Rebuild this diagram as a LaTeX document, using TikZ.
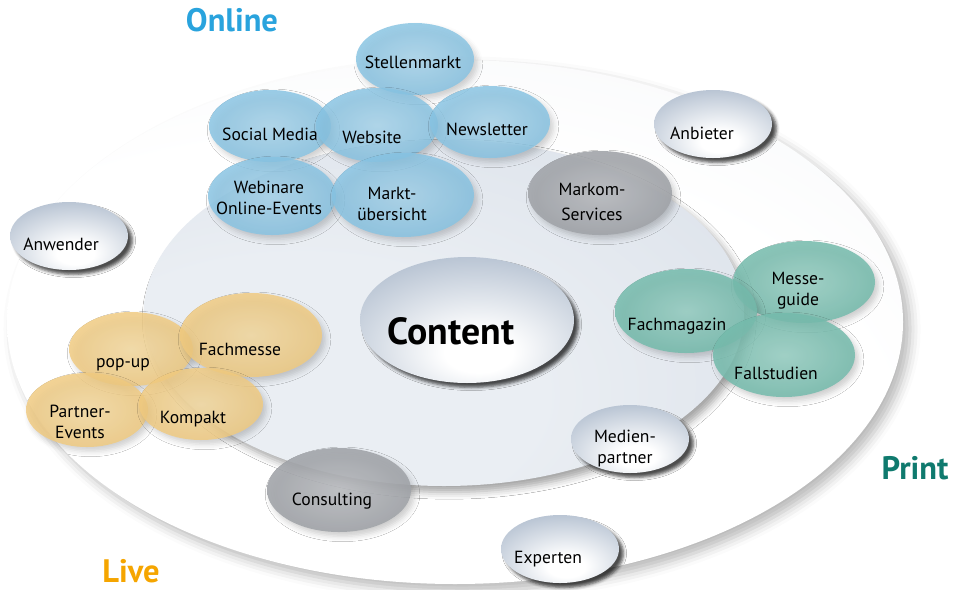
\documentclass[tikz,border=0pt]{standalone}
\usepackage{fontspec}
\setmainfont{PT Sans}
\usetikzlibrary{shapes.geometric,shadows.blur}
\newdimen\px \px=0.02cm
\newcommand\tx[3]{\makebox[0pt]{\hspace*{#1\px}\hspace*{#1\px}\raisebox{\dimexpr -#2\px - 4.2pt\relax}[0pt][0pt]{\begin{tabular}{@{}c@{}}#3\end{tabular}}}}
\definecolor{discout}{HTML}{ECEFF3}
\definecolor{innerin}{HTML}{EAEEF3}
\definecolor{innerout}{HTML}{D0D8E3}
\definecolor{glassout}{HTML}{B0BDCE}
\definecolor{bluein}{HTML}{A8D6EE}
\definecolor{blueout}{HTML}{86C3E3}
\definecolor{orin}{HTML}{F8DCA0}
\definecolor{orout}{HTML}{F1CA7E}
\definecolor{tealin}{HTML}{98D0C4}
\definecolor{tealout}{HTML}{74BBAC}
\definecolor{greyin}{HTML}{BBBDC1}
\definecolor{greyout}{HTML}{A0A3A8}
\definecolor{onlinec}{HTML}{29A3DD}
\definecolor{livec}{HTML}{F5A500}
\definecolor{printc}{HTML}{0F7A6E}
\pgfdeclareradialshading{disc}{\pgfpoint{-8bp}{-18bp}}{color(0bp)=(white);color(30bp)=(white);color(62bp)=(discout);color(100bp)=(discout)}
\pgfdeclareradialshading{innerdisc}{\pgfpoint{-15bp}{-15bp}}{color(0bp)=(innerin);color(20bp)=(innerin);color(65bp)=(innerout);color(100bp)=(innerout)}
\pgfdeclareradialshading{glass}{\pgfpoint{3bp}{-14bp}}{color(0bp)=(white);color(8bp)=(white);color(38bp)=(glassout);color(100bp)=(glassout)}
\tikzset{
  sz/.style 2 args={minimum width=2*#1*0.02cm, minimum height=2*#2*0.02cm},
  bub/.style={ellipse, inner sep=0pt, outer sep=0pt, font=\fontsize{10}{11.6}\selectfont, text=black, text opacity=1},
  softshadow/.style={blur shadow={shadow xshift=2pt, shadow yshift=-2.5pt, shadow blur radius=3pt, shadow opacity=22}},
  bluebub/.style={bub, softshadow, shade, inner color=bluein, outer color=blueout, fill opacity=0.82},
  orbub/.style={bub, softshadow, shade, inner color=orin, outer color=orout, fill opacity=0.82},
  tealbub/.style={bub, softshadow, shade, inner color=tealin, outer color=tealout, fill opacity=0.85},
  greybub/.style={bub, softshadow, shade, inner color=greyin, outer color=greyout, fill opacity=0.88},
  glassbub/.style={bub, blur shadow={shadow xshift=2.5pt, shadow yshift=-2.5pt, shadow blur radius=1.8pt, shadow opacity=70}, shading=glass},
  catlabel/.style={font=\fontsize{18.5}{21}\selectfont\bfseries, inner sep=0pt}
}
\begin{document}
\begin{tikzpicture}[x=0.02cm, y=-0.02cm]
\useasboundingbox (0,0) rectangle (961,589);
% discs
\path[blur shadow={shadow xshift=4pt, shadow yshift=-4pt, shadow blur radius=6pt, shadow opacity=28}, shading=disc] (455,322) ellipse [x radius=448, y radius=262];
\path[blur shadow={shadow xshift=3pt, shadow yshift=-3.5pt, shadow blur radius=4pt, shadow opacity=35}, shading=innerdisc] (444,313) ellipse [x radius=300, y radius=173];
% centre
\node[glassbub, sz={107}{63}, font=\fontsize{21.5}{24}\selectfont\bfseries] (content) at (467,320) {\tx{-16}{18}{Content}};
% online
\node[bluebub, sz={59}{36}] (stellen) at (415,59) {\tx{-2}{2}{Stellenmarkt}};
\node[bluebub, sz={61}{36}] (social) at (270,126) {\tx{0}{7}{Social Media}};
\node[bluebub, sz={61}{37}] (website) at (377,125) {\tx{-5}{11}{Website}};
\node[bluebub, sz={60}{36}] (news) at (490,122) {\tx{-3}{6}{Newsletter}};
\node[bluebub, sz={64}{39}] (webinare) at (272,196) {\tx{-3}{1}{Webinare\\Online-Events}};
\node[bluebub, sz={71}{42}] (markt) at (403,195) {\tx{-11}{8}{Markt-\\übersicht}};
% grey
\node[greybub, sz={72}{42}] (markom) at (600,193) {\tx{-8}{8}{Markom-\\[3pt]Services}};
\node[greybub, sz={72}{42}] (consulting) at (339,490) {\tx{-7}{8}{Consulting}};
% glass
\node[glassbub, sz={59}{34}] (anbieter) at (713,124) {\tx{-11}{8}{Anbieter}};
\node[glassbub, sz={59}{34}] (anwender) at (69,236) {\tx{-8}{7}{Anwender}};
\node[glassbub, sz={59}{34}] (medien) at (630,439) {\tx{-5}{7}{Medien-\\partner}};
\node[glassbub, sz={59}{34}] (experten) at (560,549) {\tx{-12}{7}{Experten}};
% print
\node[tealbub, sz={71}{41}] (messe) at (804,282) {\tx{-6}{6}{Messe-\\guide}};
\node[tealbub, sz={71}{42}] (fachmagazin) at (686,311) {\tx{-9}{12}{Fachmagazin}};
\node[tealbub, sz={71}{42}] (fallstudien) at (784,355) {\tx{-8}{17}{Fallstudien}};
% live
\node[orbub, sz={62}{37}] (popup) at (131,349) {\tx{-8}{11}{pop-up}};
\node[orbub, sz={71}{42}] (fachmesse) at (251,335) {\tx{-11}{13}{Fachmesse}};
\node[orbub, sz={61}{37}] (partner) at (87,410) {\tx{-7}{11}{Partner-\\Events}};
\node[orbub, sz={62}{36}] (kompakt) at (201,404) {\tx{-8}{12}{Kompakt}};
% category labels
\node[catlabel, text=onlinec] (online) at (232,20) {Online};
\node[catlabel, text=livec] (live) at (131,571) {Live};
\node[catlabel, text=printc] (print) at (915,468) {Print};
\end{tikzpicture}
\end{document}
